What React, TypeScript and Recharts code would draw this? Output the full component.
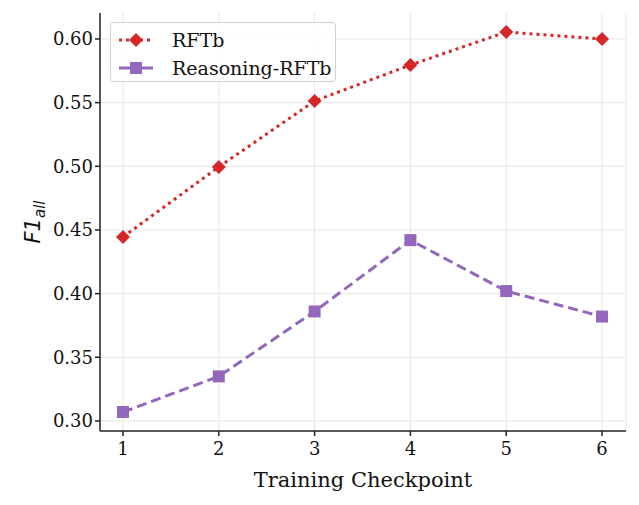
import { LineChart, Line, XAxis, YAxis, CartesianGrid } from 'recharts';

const checkpoints = [1, 2, 3, 4, 5, 6];
const rftb = [0.4445, 0.4995, 0.5513, 0.5796, 0.6055, 0.6];
const reasoningRftb = [0.307, 0.335, 0.386, 0.442, 0.402, 0.382];
const yTicks = [0.3, 0.35, 0.4, 0.45, 0.5, 0.55, 0.6];

const RED = '#d62728';
const PURPLE = '#9467bd';
const FONT = '"DejaVu Serif", serif';

const data = checkpoints.map((c, i) => ({ step: c, rftb: rftb[i], reasoning: reasoningRftb[i] }));

const Diamond = (props: any) => {
  const { cx, cy } = props;
  if (cx == null || cy == null) return null;
  const r = 7;
  return <path d={`M${cx},${cy - r}L${cx + r},${cy}L${cx},${cy + r}L${cx - r},${cy}Z`} fill={RED} />;
};

const Square = (props: any) => {
  const { cx, cy } = props;
  if (cx == null || cy == null) return null;
  const s = 6;
  return <rect x={cx - s} y={cy - s} width={s * 2} height={s * 2} fill={PURPLE} />;
};

const LegendBox = () => (
  <div
    style={{
      position: 'absolute',
      left: 110,
      top: 22,
      width: 226,
      height: 60,
      boxSizing: 'border-box',
      border: '1px solid #d0d0d0',
      borderRadius: 4,
      background: 'rgba(255,255,255,0.85)',
      padding: '3px 0 0 7px',
      fontFamily: FONT,
      fontSize: 19,
      color: '#111',
    }}
  >
    <div style={{ display: 'flex', alignItems: 'center', height: 28 }}>
      <svg width={36} height={16} style={{ marginRight: 18 }}>
        <line x1={1} y1={8} x2={35} y2={8} stroke={RED} strokeWidth={3} strokeDasharray="3 4" />
        <path d="M18,1L25,8L18,15L11,8Z" fill={RED} />
      </svg>
      RFTb
    </div>
    <div style={{ display: 'flex', alignItems: 'center', height: 28 }}>
      <svg width={36} height={16} style={{ marginRight: 18 }}>
        <line x1={1} y1={8} x2={35} y2={8} stroke={PURPLE} strokeWidth={3} />
        <rect x={12} y={2} width={12} height={12} fill={PURPLE} />
      </svg>
      Reasoning-RFTb
    </div>
  </div>
);

const YLabel = (props: any) => {
  const { viewBox } = props;
  const cy = viewBox.y + viewBox.height / 2;
  const x = 40;
  return (
    <text
      transform={`translate(${x},${cy}) rotate(-90)`}
      textAnchor="middle"
      fontFamily='"DejaVu Sans", sans-serif'
      fontStyle="italic"
      fontSize={21}
      fill="#111"
    >
      F1<tspan fontSize={15} dy={5}>all</tspan>
    </text>
  );
};

export default function App() {
  return (
    <div style={{ position: 'absolute', left: 0, top: 0, width: 639, height: 505, background: '#fff' }}>
      <LineChart width={639} height={505} data={data} margin={{ top: 13, right: 13, left: 0, bottom: 0 }}>
        <CartesianGrid stroke="#e6e6e6" strokeWidth={1} horizontalValues={yTicks} />
        <XAxis
          dataKey="step"
          type="number"
          domain={[0.76, 6.25]}
          ticks={checkpoints}
          height={74}
          stroke="#222"
          strokeWidth={1.5}
          tickSize={5}
          tick={{ fontFamily: FONT, fontSize: 18, fill: '#111', dy: 4 }}
          label={{ value: 'Training Checkpoint', position: 'insideBottom', offset: 18, style: { fontFamily: FONT, fontSize: 21, fill: '#111' } }}
        />
        <YAxis
          type="number"
          domain={[0.2921, 0.6204]}
          ticks={yTicks}
          tickFormatter={(v: number) => v.toFixed(2)}
          width={100}
          stroke="#222"
          strokeWidth={1.5}
          tickSize={5}
          tick={{ fontFamily: FONT, fontSize: 18, fill: '#111' }}
          label={<YLabel />}
        />
        <Line
          dataKey="rftb"
          stroke={RED}
          strokeWidth={3}
          strokeDasharray="3 4"
          dot={<Diamond />}
          activeDot={false}
          isAnimationActive={false}
        />
        <Line
          dataKey="reasoning"
          stroke={PURPLE}
          strokeWidth={3}
          strokeDasharray="10 5"
          dot={<Square />}
          activeDot={false}
          isAnimationActive={false}
        />
      </LineChart>
      <LegendBox />
    </div>
  );
}
